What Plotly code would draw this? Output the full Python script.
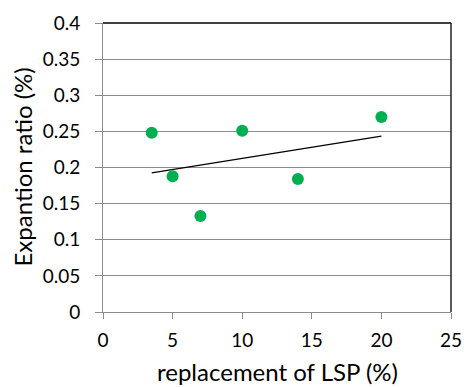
import numpy as np
import plotly.graph_objects as go

# Data
replacement_lsp = [3.5, 5, 7, 10, 14, 20]
expansion_ratio = [0.248, 0.188, 0.133, 0.251, 0.184, 0.270]

x_ticks = [0, 5, 10, 15, 20, 25]
y_ticks = [0, 0.05, 0.1, 0.15, 0.2, 0.25, 0.3, 0.35, 0.4]
y_tick_labels = ["0", "0.05", "0.1", "0.15", "0.2", "0.25", "0.3", "0.35", "0.4"]

x_title = "replacement of LSP (%)"
y_title = "Expantion ratio (%)"

# Linear trendline fitted from data
slope, intercept = np.polyfit(replacement_lsp, expansion_ratio, 1)
trend_x = [min(replacement_lsp), max(replacement_lsp)]
trend_y = [slope * v + intercept for v in trend_x]

FONT = "Lato"
GRID = "#8c8c8c"

fig = go.Figure()
fig.add_trace(go.Scatter(
    x=trend_x, y=trend_y, mode="lines",
    line=dict(color="black", width=1.3), showlegend=False, hoverinfo="skip"))
fig.add_trace(go.Scatter(
    x=replacement_lsp, y=expansion_ratio, mode="markers",
    marker=dict(color="#00B050", size=12), showlegend=False))

fig.update_layout(
    width=464, height=387,
    margin=dict(l=103, r=13, t=23, b=75, autoexpand=False),
    paper_bgcolor="white", plot_bgcolor="white",
    font=dict(family=FONT, color="black"),
    xaxis=dict(
        range=[0, 25], tickvals=x_ticks, ticktext=[str(v) for v in x_ticks],
        showgrid=False, zeroline=False, automargin=False,
        showline=True, linecolor=GRID, linewidth=1,
        ticks="outside", ticklen=6, tickcolor=GRID, tickwidth=1,
        tickfont=dict(size=19, family=FONT), ticklabelstandoff=5,
    ),
    yaxis=dict(
        range=[0, 0.4], tickvals=y_ticks, ticktext=y_tick_labels,
        showgrid=True, gridcolor=GRID, gridwidth=1,
        zeroline=False, automargin=False,
        showline=True, linecolor=GRID, linewidth=1,
        ticks="outside", ticklen=7, tickcolor=GRID, tickwidth=1,
        tickfont=dict(size=19, family=FONT), ticklabelstandoff=11,
    ),
    shapes=[
        dict(type="line", xref="paper", yref="paper", x0=0, x1=1, y0=1, y1=1,
             line=dict(color="black", width=1.3), layer="above"),
        dict(type="line", xref="paper", yref="paper", x0=1, x1=1, y0=0, y1=1,
             line=dict(color="#222222", width=1.5), layer="above"),
    ],
    annotations=[
        dict(text=x_title, xref="paper", yref="paper", x=0.5, y=0,
             yshift=-59, xanchor="center", yanchor="middle", showarrow=False,
             font=dict(size=24, family=FONT)),
        dict(text=y_title, xref="paper", yref="paper", x=0, xshift=-81, y=0.5,
             xanchor="center", yanchor="middle", textangle=-90, showarrow=False,
             font=dict(size=24, family=FONT)),
    ],
)

fig.write_html(
    "out.html",
    config={"displayModeBar": False},
    post_script="document.body.style.margin='0';document.body.style.overflow='hidden';",
)
